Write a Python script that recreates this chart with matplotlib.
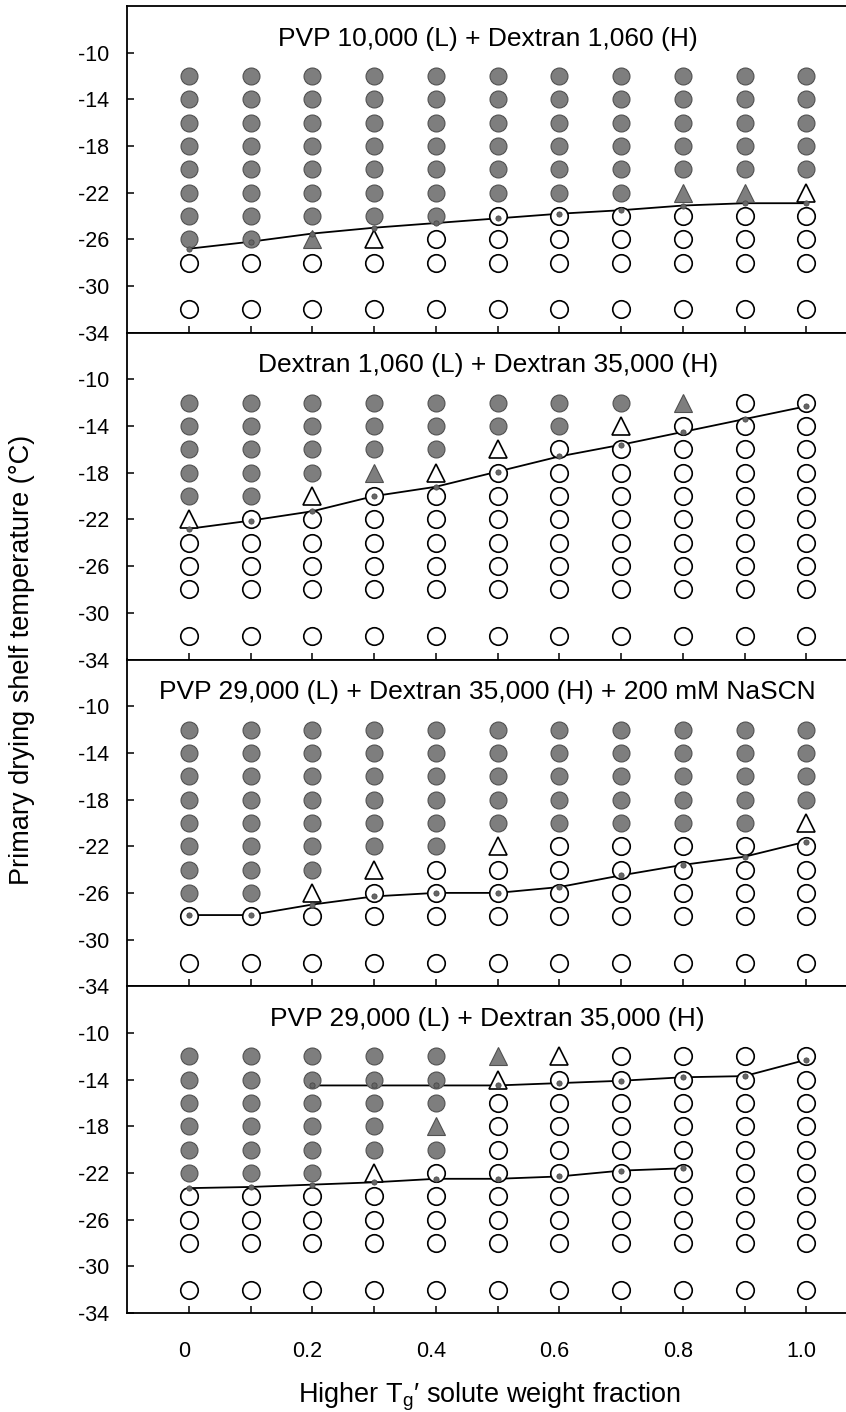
"""
Collapse map for freeze-drying of binary polymer mixtures.

Four stacked panels: primary drying shelf temperature vs. the weight fraction
of the higher Tg' solute. Markers give the cake appearance at each shelf
temperature, the line joins the measured collapse temperatures.
"""
import matplotlib
matplotlib.use("Agg")  # no display
import matplotlib.pyplot as plt
import matplotlib.transforms as mtransforms

plt.rcParams["font.family"] = ["Liberation Sans", "DejaVu Sans"]
plt.rcParams["mathtext.fontset"] = "custom"
plt.rcParams["mathtext.rm"] = "Liberation Sans"
plt.rcParams["mathtext.it"] = "Liberation Sans:italic"
plt.rcParams["axes.unicode_minus"] = False

FRACCION = [0.0, 0.1, 0.2, 0.3, 0.4, 0.5, 0.6, 0.7, 0.8, 0.9, 1.0]
FILAS = [-12, -14, -16, -18, -20, -22, -24, -26, -28, -32]
Y_TICKS = [-10, -14, -18, -22, -26, -30, -34]
X_TICK_LABELS = ["0", "", "0.2", "", "0.4", "", "0.6", "", "0.8", "", "1.0"]

# one string per column, rows from -12 (top) to -32 (bottom)
# F = filled circle, T = filled triangle, t = open triangle, O = open circle
P1_TITULO = "PVP 10,000 (L) + Dextran 1,060 (H)"
P1_CODIGOS = ["FFFFFFFFOO", "FFFFFFFFOO", "FFFFFFFTOO", "FFFFFFFtOO",
              "FFFFFFFOOO", "FFFFFFOOOO", "FFFFFFOOOO", "FFFFFFOOOO",
              "FFFFFTOOOO", "FFFFFTOOOO", "FFFFFtOOOO"]
P1_TC = [-26.8, -26.2, -25.5, -25.0, -24.6, -24.2, -23.8, -23.5, -23.1, -22.9, -22.9]

P2_TITULO = "Dextran 1,060 (L) + Dextran 35,000 (H)"
P2_CODIGOS = ["FFFFFtOOOO", "FFFFFOOOOO", "FFFFtOOOOO", "FFFTOOOOOO",
              "FFFtOOOOOO", "FFtOOOOOOO", "FFOOOOOOOO", "FtOOOOOOOO",
              "TOOOOOOOOO", "OOOOOOOOOO", "OOOOOOOOOO"]
P2_TC = [-22.8, -22.1, -21.3, -20.0, -19.2, -17.9, -16.6, -15.6, -14.5, -13.4, -12.3]

P3_TITULO = "PVP 29,000 (L) + Dextran 35,000 (H) + 200 mM NaSCN"
P3_CODIGOS = ["FFFFFFFFOO", "FFFFFFFFOO", "FFFFFFFtOO", "FFFFFFtOOO",
              "FFFFFFOOOO", "FFFFFtOOOO", "FFFFFOOOOO", "FFFFFOOOOO",
              "FFFFFOOOOO", "FFFFFOOOOO", "FFFFtOOOOO"]
P3_TC = [-27.9, -27.9, -27.0, -26.3, -26.0, -26.0, -25.5, -24.5, -23.6, -22.9, -21.6]

P4_TITULO = "PVP 29,000 (L) + Dextran 35,000 (H)"
P4_CODIGOS = ["FFFFFFOOOO", "FFFFFFOOOO", "FFFFFFOOOO", "FFFFFtOOOO",
              "FFFTFOOOOO", "TtOOOOOOOO", "tOOOOOOOOO", "OOOOOOOOOO",
              "OOOOOOOOOO", "OOOOOOOOOO", "OOOOOOOOOO"]
P4_X_ALTA = [0.2, 0.3, 0.4, 0.5, 0.6, 0.7, 0.8, 0.9, 1.0]
P4_TC_ALTA = [-14.5, -14.5, -14.5, -14.5, -14.3, -14.1, -13.8, -13.7, -12.3]
P4_X_BAJA = [0.0, 0.1, 0.2, 0.3, 0.4, 0.5, 0.6, 0.7, 0.8]
P4_TC_BAJA = [-23.3, -23.2, -23.0, -22.8, -22.5, -22.5, -22.3, -21.8, -21.6]

GRIS = "#7e7e7e"
GRIS_BORDE = "#505050"
ESTILOS = {
    "F": dict(marker="o", ms=12.2, mfc=GRIS, mec=GRIS_BORDE, mew=0.8),
    "T": dict(marker="^", ms=13.5, mfc=GRIS, mec=GRIS_BORDE, mew=0.8),
    "t": dict(marker="^", ms=13.0, mfc="white", mec="black", mew=1.2),
    "O": dict(marker="o", ms=12.6, mfc="white", mec="black", mew=1.2),
}

W_PX, H_PX = 846, 1412
IZQ_PX, DER_PX = 127, 868      # right spine falls outside the picture
ARRIBA_PX, ALTO_PX = 6, 326.75


def dibujar_panel(ax, titulo, codigos, lineas):
    for codigo, estilo in ESTILOS.items():
        xs, ys = [], []
        for x, col in zip(FRACCION, codigos):
            for y, c in zip(FILAS, col):
                if c == codigo:
                    xs.append(x)
                    ys.append(y)
        ax.plot(xs, ys, linestyle="none", zorder=3, **estilo)
    for xs, ys in lineas:
        ax.plot(xs, ys, color="black", lw=1.3, zorder=2)
        ax.plot(xs, ys, linestyle="none", marker="o", ms=3.8,
                mfc="#666666", mec="#444444", mew=0.5, zorder=4)

    ax.text(0.484, -9.4, titulo, ha="center", va="baseline", fontsize=19)
    ax.set_xlim(-0.1, 1.1)
    ax.set_ylim(-34, -6)
    ax.set_yticks(Y_TICKS)
    ax.set_xticks(FRACCION)
    ax.spines["right"].set_visible(False)
    for s in ("left", "top", "bottom"):
        ax.spines[s].set_linewidth(1.3)
    ax.tick_params(axis="y", direction="in", length=5, width=1.1,
                   labelsize=15.5, pad=13)
    ax.tick_params(axis="x", direction="in", length=5, width=1.1,
                   labelsize=15.5, pad=20)


def main():
    paneles = [
        (P1_TITULO, P1_CODIGOS, [(FRACCION, P1_TC)]),
        (P2_TITULO, P2_CODIGOS, [(FRACCION, P2_TC)]),
        (P3_TITULO, P3_CODIGOS, [(FRACCION, P3_TC)]),
        (P4_TITULO, P4_CODIGOS, [(P4_X_ALTA, P4_TC_ALTA), (P4_X_BAJA, P4_TC_BAJA)]),
    ]

    fig = plt.figure(figsize=(W_PX / 100, H_PX / 100), dpi=100)
    for i, (titulo, codigos, lineas) in enumerate(paneles):
        abajo_px = ARRIBA_PX + (i + 1) * ALTO_PX
        ax = fig.add_axes([IZQ_PX / W_PX, 1 - abajo_px / H_PX,
                           (DER_PX - IZQ_PX) / W_PX, ALTO_PX / H_PX])
        dibujar_panel(ax, titulo, codigos, lineas)
        if i < len(paneles) - 1:
            ax.set_xticklabels([])
        else:
            ax.set_xticklabels(X_TICK_LABELS)
            # labels sit a few pixels left of their ticks in the original
            desplazamiento = mtransforms.ScaledTranslation(-5 / 100, 0, fig.dpi_scale_trans)
            for etiqueta in ax.get_xticklabels():
                etiqueta.set_transform(etiqueta.get_transform() + desplazamiento)

    fig.text(22 / W_PX, 1 - 660 / H_PX, "Primary drying shelf temperature (°C)",
             rotation=90, ha="center", va="center", fontsize=19.5)
    fig.text(490 / W_PX, 1 - 1397 / H_PX,
             r"Higher T$_\mathregular{g}$′ solute weight fraction",
             ha="center", va="center", fontsize=19.5)

    fig.savefig("out.png", dpi=100)
    plt.close(fig)


if __name__ == "__main__":
    main()
